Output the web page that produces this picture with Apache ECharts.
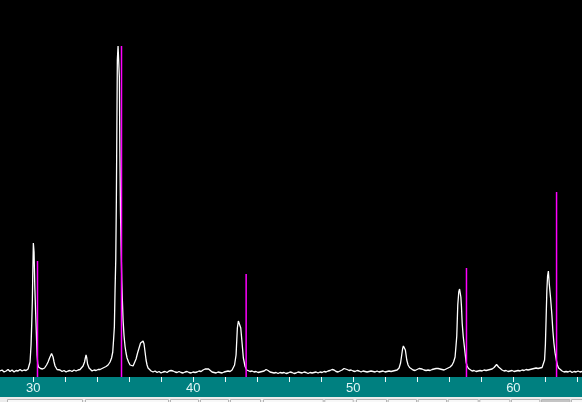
<!DOCTYPE html>
<html>
<head>
<meta charset="utf-8">
<script src="https://cdn.jsdelivr.net/npm/echarts@6/dist/echarts.min.js"></script>
<style>html,body{margin:0;padding:0;background:#000;}#c{width:582px;height:402px;}</style>
</head>
<body>
<div id="c"></div>
<script>
// 2-theta (degrees) of the measured pattern
const twoTheta = [
27.92,28.045,28.17,28.295,28.42,28.545,28.67,28.795,28.92,29.045,29.17,29.295,29.42,29.545,29.67,29.733,29.795,29.858,29.901,29.939,29.964,30.001,30.045,30.089,30.139,30.183,30.233,30.276,30.326,30.389,30.451,30.514,30.576,30.639,30.701,30.764,30.826,30.92,31.014,31.076,31.139,31.189,31.233,31.295,31.358,31.42,31.483,31.545,31.67,31.795,31.92,32.045,32.17,32.295,32.42,32.545,32.67,32.795,32.92,33.014,33.108,33.201,33.251,33.295,33.339,33.389,33.483,33.576,33.67,33.795,33.92,34.045,34.17,34.358,34.545,34.67,34.795,34.889,34.964,35.014,35.064,35.108,35.151,35.189,35.22,35.251,35.295,35.339,35.376,35.408,35.445,35.483,35.526,35.564,35.608,35.67,35.733,35.795,35.858,35.951,36.045,36.139,36.233,36.326,36.42,36.514,36.608,36.701,36.764,36.814,36.858,36.92,36.983,37.045,37.108,37.17,37.264,37.358,37.483,37.608,37.733,37.858,37.983,38.108,38.233,38.358,38.483,38.608,38.733,38.858,38.983,39.108,39.233,39.358,39.483,39.608,39.733,39.858,39.983,40.108,40.233,40.358,40.483,40.608,40.733,40.839,40.951,41.045,41.17,41.295,41.42,41.545,41.67,41.795,41.92,42.045,42.17,42.295,42.42,42.501,42.576,42.67,42.751,42.814,42.876,42.964,43.045,43.126,43.233,43.339,43.42,43.545,43.67,43.795,43.92,44.045,44.17,44.295,44.42,44.545,44.67,44.795,44.92,45.045,45.17,45.295,45.42,45.545,45.67,45.795,45.92,46.045,46.17,46.295,46.42,46.545,46.67,46.795,46.92,47.045,47.17,47.295,47.42,47.545,47.67,47.795,47.92,48.045,48.17,48.295,48.42,48.545,48.67,48.795,48.92,49.045,49.17,49.295,49.42,49.514,49.608,49.733,49.858,49.983,50.108,50.233,50.358,50.483,50.608,50.733,50.858,50.983,51.108,51.233,51.358,51.483,51.608,51.733,51.858,51.983,52.108,52.233,52.358,52.483,52.608,52.733,52.858,52.951,53.014,53.076,53.126,53.17,53.214,53.251,53.295,53.339,53.42,53.514,53.608,53.733,53.858,53.983,54.108,54.214,54.295,54.42,54.545,54.67,54.795,54.92,55.045,55.17,55.295,55.42,55.545,55.67,55.795,55.92,56.045,56.17,56.264,56.358,56.42,56.464,56.526,56.589,56.639,56.683,56.72,56.758,56.801,56.87,56.933,56.983,57.045,57.108,57.201,57.295,57.42,57.545,57.67,57.795,57.92,58.045,58.17,58.295,58.42,58.545,58.67,58.795,58.951,59.076,59.17,59.295,59.42,59.545,59.67,59.795,59.92,60.045,60.17,60.295,60.42,60.545,60.67,60.795,60.92,61.045,61.17,61.295,61.42,61.545,61.67,61.795,61.889,61.951,62.001,62.045,62.095,62.139,62.189,62.245,62.326,62.408,62.47,62.533,62.608,62.683,62.751,62.826,62.92,63.045,63.17,63.295,63.42,63.545,63.67,63.795,63.92,64.045,64.17,64.295
];
// measured intensity (counts)
const intensity = [
12,14,10,12,15,11,14,10,13,12,15,12,14,13,16,20,30,64,108,154,204,268,250,184,134,94,44,26,20,16,17,14,16,14,18,20,24,30,38,42,47,48,40,30,22,18,15,12,14,11,13,10,12,13,11,14,12,14,15,18,22,30,38,44,38,26,18,14,12,14,13,15,15,18,21,24,30,38,50,74,100,174,234,354,494,634,662,662,600,454,334,264,194,154,114,82,61,48,38,30,24,21,22,26,36,48,58,68,71,64,72,66,50,34,24,18,15,12,10,12,9,11,8,10,11,9,12,13,12,10,9,11,9,8,10,11,9,8,10,9,10,12,11,14,16,18,16,13,10,9,8,10,9,8,10,11,12,11,14,14,24,44,98,112,116,98,68,38,21,14,13,11,12,10,11,9,10,11,12,15,13,10,9,8,9,7,9,8,9,7,8,10,9,7,8,10,9,8,10,9,7,9,8,9,10,8,10,9,11,10,12,13,15,14,11,10,12,14,17,18,15,13,14,12,11,13,12,10,12,11,10,11,12,11,10,12,10,11,12,10,11,12,11,12,13,14,18,28,42,56,62,65,64,54,44,34,24,19,16,14,13,15,17,19,16,14,13,14,13,15,16,17,17,16,15,14,16,18,20,24,30,40,64,82,144,170,176,177,160,140,108,80,62,48,30,22,17,14,12,13,11,12,13,12,14,13,14,15,16,19,25,20,16,14,12,13,11,12,13,11,12,13,12,14,13,15,14,15,16,17,18,17,18,19,22,34,64,114,174,202,212,186,158,124,92,68,48,34,24,18,14,12,10,11,10,12,9,11,10,12,10,11
];
// reference card lines (2-theta, intensity)
const refTheta = [30.26, 35.51, 43.30, 57.07, 62.70];
const refIntensity = [232, 662, 206, 218, 370];
// labelled ticks
const xTickLabels = [30, 40, 50, 60];

const chart = echarts.init(document.getElementById('c'), null, {renderer: 'canvas'});

const boxes = [[7,82],[85,168],[170,198],[200,228],[230,260],[263,322.7],[324.3,352.7],[356,386],[387.7,416],[417.7,446],[447.7,477.7],[479.3,509.3],[511,539.3],[541,569.3],[571,600]];
const graphics = [
  {type:'rect', z:-10, shape:{x:0,y:377,width:582,height:20}, style:{fill:'#008080'}},
  {type:'rect', z:-10, shape:{x:0,y:397,width:582,height:5}, style:{fill:'#ececec'}}
];
boxes.forEach(function(b, i){
  graphics.push({type:'rect', z:-9, shape:{x:b[0]+0.5,y:399.5,width:b[1]-b[0],height:4},
    style:{fill: i===13 ? '#c4c4c4' : '#f8f8f8', stroke:'#b4b4b4', lineWidth:1}});
});

chart.setOption({
  backgroundColor: '#000000',
  animation: false,
  grid: {left: 1.33, right: 0, top: 0, bottom: 25, containLabel: false},
  xAxis: {
    type: 'value', min: 28, max: 64.29, interval: 2,
    axisLine: {show: false},
    axisTick: {show: true, length: 5, lineStyle: {color: '#eef8f8', width: 1}},
    splitLine: {show: false},
    axisLabel: {
      showMinLabel: false, showMaxLabel: false,
      color: '#e0f4f4', fontSize: 13, fontFamily: 'Liberation Sans', margin: 5,
      formatter: function(v){ return xTickLabels.indexOf(Math.round(v)) >= 0 && Math.abs(v - Math.round(v)) < 1e-6 ? String(Math.round(v)) : ''; }
    }
  },
  yAxis: {type: 'value', min: 0, max: 754, show: false, splitLine: {show: false}},
  graphic: graphics,
  series: [
    {
      type: 'line', showSymbol: false, symbol: 'none',
      data: twoTheta.map(function(t, i){ return [t, intensity[i]]; }),
      lineStyle: {color: '#ffffff', width: 1.3},
      z: 2
    },
    {
      type: 'custom', z: 3,
      data: refTheta.map(function(t, i){ return [t, refIntensity[i]]; }),
      renderItem: function(params, api){
        const p0 = api.coord([api.value(0), 0]);
        const p1 = api.coord([api.value(0), api.value(1)]);
        return {type: 'line', shape: {x1: p0[0], y1: p0[1], x2: p1[0], y2: p1[1]},
          style: {stroke: '#ff00ff', lineWidth: 1.5}};
      }
    }
  ]
});
</script>
</body>
</html>
